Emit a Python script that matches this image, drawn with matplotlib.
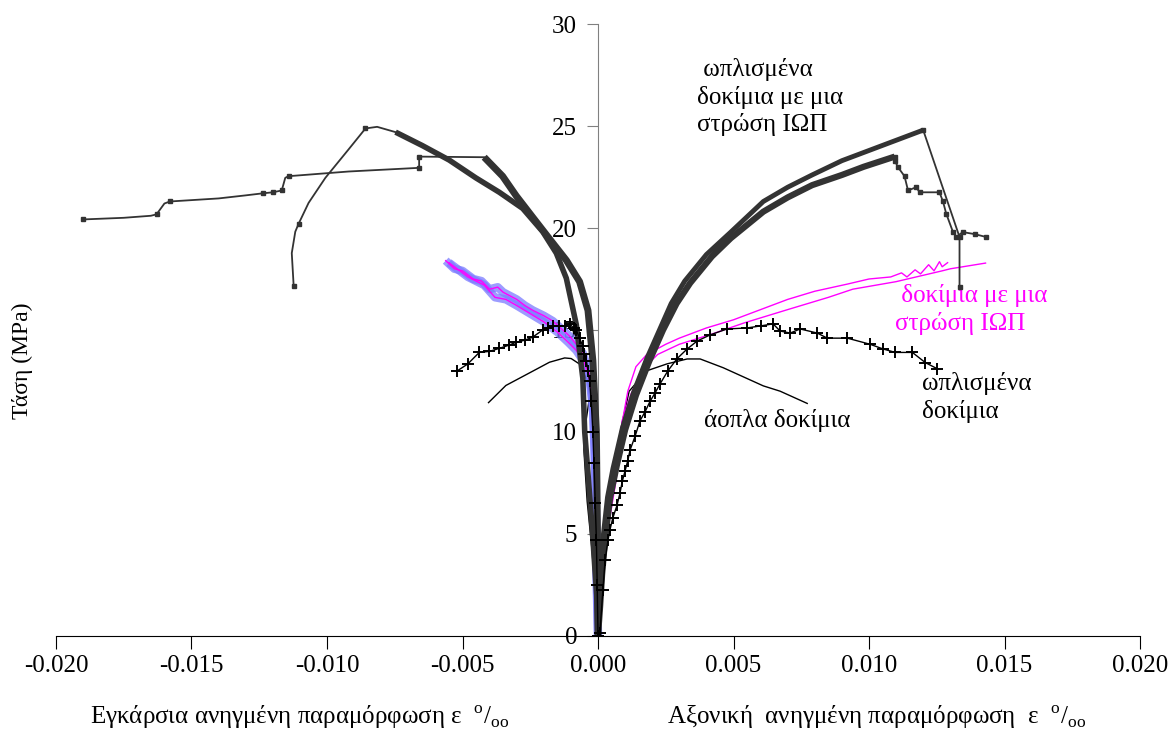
import numpy as np
import matplotlib
matplotlib.use("Agg")
import matplotlib.pyplot as plt

plt.rcParams["font.family"] = ["Liberation Serif", "DejaVu Serif"]
plt.rcParams["mathtext.fontset"] = "custom"
plt.rcParams["mathtext.rm"] = "Liberation Serif"
plt.rcParams["axes.unicode_minus"] = False

# --- FRP wrapped, reinforced specimens (dark grey) ---
# axial side, dense part
frp_ax1 = [(0, 0), (0.00005, 1.5), (0.0001, 3), (0.0002, 5), (0.00035, 6.8), (0.00055, 8.2),
           (0.0009, 10.2), (0.0013, 11.9), (0.0018, 13.6), (0.0023, 15.1), (0.0027, 16.3),
           (0.0032, 17.4), (0.0040, 18.7), (0.0049, 19.8), (0.0061, 21.3), (0.0070, 22.0),
           (0.0079, 22.6), (0.0090, 23.3), (0.0098, 23.7), (0.0110, 24.3), (0.0120, 24.8)]
frp_ax1_tail = [(0.0120, 24.8), (0.01334, 19.56), (0.01334, 17.1)]
frp_ax2 = [(0, 0), (0.00008, 1.5), (0.00015, 3), (0.00028, 5), (0.00045, 6.8), (0.0007, 8.4),
           (0.0010, 10.1), (0.0014, 11.8), (0.0019, 13.5), (0.0024, 15.0), (0.0029, 16.3),
           (0.0034, 17.3), (0.0042, 18.6), (0.0049, 19.5), (0.0061, 20.8), (0.0070, 21.5),
           (0.0079, 22.1), (0.0090, 22.6), (0.0098, 23.0), (0.01095, 23.5)]
frp_ax2_tail = [(0.01095, 23.5), (0.01095, 23.3), (0.01107, 22.98), (0.01131, 22.54),
                (0.01144, 21.84), (0.01174, 22.0), (0.01187, 21.75), (0.0126, 21.75),
                (0.01273, 21.3), (0.01285, 20.7), (0.0131, 19.8), (0.01322, 19.56),
                (0.01346, 19.8), (0.0139, 19.7), (0.01432, 19.56)]
# lateral side
frp_lat1 = [(-0.00747, 24.7), (-0.00648, 24.04), (-0.00549, 23.33), (-0.00451, 22.46),
            (-0.00364, 21.75), (-0.00278, 20.96), (-0.00204, 19.82), (-0.00154, 18.77),
            (-0.00117, 17.54), (-0.0008, 15.26), (-0.00056, 12.63), (-0.00049, 10.0),
            (-0.0004, 8.5), (-0.0002, 5.0), (-0.00005, 2.0), (0, 0)]
frp_lat1_head = [(-0.01123, 17.16), (-0.0113, 18.77), (-0.01117, 19.82), (-0.01105, 20.2),
                 (-0.01068, 21.23), (-0.01006, 22.46), (-0.0092, 23.86), (-0.00858, 24.88),
                 (-0.00815, 24.96), (-0.00747, 24.7)]
frp_lat1_head_marks = [0, 3, 7]
frp_lat2 = [(-0.0042, 23.47), (-0.00352, 22.54), (-0.00302, 21.58), (-0.00241, 20.53),
            (-0.00179, 19.47), (-0.00117, 18.42), (-0.00068, 17.37), (-0.00037, 15.96),
            (-0.00019, 13.5), (-0.00006, 10.0), (-0.00002, 5.0), (0, 0)]
frp_lat2_head = [(-0.0190, 20.42), (-0.0175, 20.5), (-0.0165, 20.6), (-0.01629, 20.67),
                 (-0.0160, 21.2), (-0.0158, 21.3), (-0.0140, 21.45), (-0.0130, 21.6),
                 (-0.01237, 21.7), (-0.01200, 21.75), (-0.01167, 21.84), (-0.01154, 22.46),
                 (-0.01142, 22.54), (-0.0092, 22.77), (-0.0066, 22.95), (-0.0066, 23.5),
                 (-0.0042, 23.47)]
frp_lat2_head_marks = [0, 3, 5, 8, 9, 10, 12, 14, 15]

# --- FRP wrapped, plain specimens (magenta) ---
mag_ax1 = [(0, 0), (0.0001, 3), (0.0005, 7), (0.0008, 9.8), (0.0011, 12.0), (0.0014, 13.2),
           (0.0018, 13.8), (0.0025, 14.3), (0.0030, 14.6), (0.0040, 15.1), (0.0050, 15.5),
           (0.0060, 16.0), (0.0070, 16.5), (0.0080, 16.9), (0.0092, 17.25), (0.0100, 17.5),
           (0.0108, 17.6), (0.0112, 17.8), (0.0114, 17.6), (0.0117, 17.95), (0.0119, 17.75),
           (0.0122, 18.2), (0.0124, 17.9), (0.0126, 18.35), (0.0127, 18.1), (0.0129, 18.3)]
mag_ax2 = [(0, 0), (0.0001, 3), (0.0004, 5.5), (0.00065, 7.5), (0.0008, 9.0), (0.0009, 10.6),
           (0.0012, 11.8), (0.0016, 13.0), (0.0022, 13.8), (0.0030, 14.3), (0.0042, 14.8),
           (0.0054, 15.35), (0.0070, 16.0), (0.0085, 16.6), (0.0094, 17.0), (0.0110, 17.37),
           (0.0127, 17.9), (0.0130, 18.0), (0.0143, 18.28)]
mag_lat1 = [(-0.00562, 18.4), (-0.0053, 18.0), (-0.0050, 17.9), (-0.0046, 17.5), (-0.0043, 17.4),
            (-0.0040, 17.0), (-0.0037, 17.1), (-0.0035, 16.85), (-0.0030, 16.5), (-0.0027, 16.2),
            (-0.0024, 15.96), (-0.0020, 15.7), (-0.00167, 15.44), (-0.0013, 15.0),
            (-0.00105, 14.7), (-0.0008, 14.3), (-0.00056, 13.86), (-0.0004, 13.2),
            (-0.00031, 12.8), (-0.00019, 11.4), (-0.00012, 9.1), (-0.00008, 6.0),
            (-0.00006, 3.0), (0, 0)]
mag_lat2 = [(-0.0055, 18.3), (-0.0048, 17.6), (-0.0042, 17.2), (-0.0038, 16.6), (-0.0034, 16.5),
            (-0.0030, 16.2), (-0.0025, 15.8), (-0.0020, 15.4), (-0.0015, 14.9), (-0.0011, 14.4),
            (-0.0008, 14.0), (-0.0005, 13.4), (-0.0003, 12.5), (-0.00018, 11.0),
            (-0.0001, 8.0), (-0.00005, 4.0), (0, 0)]

# --- reinforced, no FRP (black crosses) ---
rc_ax = [(0, 0), (0.00007, 0.15), (0.00018, 2.25), (0.00026, 3.7), (0.00037, 4.7), (0.00044, 5.2),
         (0.00055, 5.8), (0.0007, 6.4), (0.00081, 7.0), (0.0009, 7.6), (0.001, 8.1),
         (0.0011, 8.6), (0.00118, 9.1), (0.00137, 9.8), (0.00155, 10.55), (0.00174, 11.0),
         (0.00192, 11.5), (0.0021, 11.9), (0.00229, 12.36), (0.00258, 13.0), (0.00292, 13.6),
         (0.00329, 14.07), (0.00366, 14.46), (0.00414, 14.76), (0.00476, 15.05), (0.0055, 15.1),
         (0.0060, 15.2), (0.00646, 15.3), (0.00672, 14.95), (0.00709, 14.85), (0.00746, 15.05),
         (0.00809, 14.85), (0.00846, 14.6), (0.0092, 14.6), (0.01004, 14.3), (0.01052, 14.07),
         (0.01097, 13.9), (0.0116, 13.9), (0.01208, 13.4), (0.01252, 13.1)]
rc_lat = [(-0.00519, 13.0), (-0.00481, 13.33), (-0.00438, 13.9), (-0.00401, 13.95),
          (-0.00364, 14.1), (-0.0033, 14.25), (-0.00302, 14.4), (-0.0027, 14.5),
          (-0.00241, 14.65), (-0.00204, 15.0), (-0.00185, 15.1), (-0.00167, 15.2),
          (-0.00145, 15.2), (-0.00123, 15.2), (-0.00105, 15.3), (-0.0009, 15.1),
          (-0.0008, 15.0), (-0.00068, 14.6), (-0.00056, 14.2), (-0.0005, 13.8),
          (-0.00043, 13.5), (-0.00037, 13.0), (-0.00031, 12.5), (-0.00025, 11.5),
          (-0.00019, 10.0), (-0.00015, 8.5), (-0.0001, 6.5), (-0.00006, 4.7),
          (-0.00003, 2.5), (0, 0)]

# --- plain, no FRP (thin black line) ---
pc_ax = [(0, 0), (0.0001, 2.0), (0.0003, 5.5), (0.0006, 8.5), (0.0009, 10.5), (0.00115, 12.0),
         (0.0018, 13.0), (0.00255, 13.34), (0.00329, 13.58), (0.00377, 13.58), (0.00462, 13.15),
         (0.0061, 12.26), (0.00672, 12.0), (0.00772, 11.4)]
pc_lat = [(-0.00404, 11.44), (-0.0034, 12.28), (-0.00241, 12.98), (-0.00179, 13.42),
          (-0.00123, 13.63), (-0.00099, 13.6), (-0.00068, 13.33), (-0.00037, 12.46),
          (-0.00031, 11.75), (-0.0005, 10.0), (-0.00052, 9.1), (-0.0004, 6.6),
          (-0.00022, 4.2), (-0.0001, 2.0), (0, 0)]

xticks = [-0.020, -0.015, -0.010, -0.005, 0.0, 0.005, 0.010, 0.015, 0.020]
xtick_labels = ["-0.020", "-0.015", "-0.010", "-0.005", "0.000", "0.005", "0.010", "0.015", "0.020"]
yticks = [0, 5, 10, 15, 20, 25, 30]


def xy(pts):
    a = np.array(pts, dtype=float)
    return a[:, 0], a[:, 1]


fig = plt.figure(figsize=(11.69, 7.46), dpi=100)
ax = fig.add_axes([0.0479, 0.1475, 0.9273, 0.8203])

dark = "#333333"

# unreinforced
for s in (pc_ax, pc_lat):
    ax.plot(*xy(s), color="black", lw=1.0, zorder=2)

# FRP plain specimens
for s in (mag_lat1, mag_lat2):
    ax.plot(*xy(s), color="#7b7bff", lw=6, alpha=0.75, solid_capstyle="butt", zorder=2)
for s in (mag_lat1, mag_lat2, mag_ax1, mag_ax2):
    ax.plot(*xy(s), color="#ff00ff", lw=1.0, zorder=3)

# FRP reinforced specimens: dense records drawn as heavy bands
for s, w in ((frp_ax1, 3.5), (frp_ax2, 4.5), (frp_lat1, 4.0), (frp_lat2, 5.0)):
    ax.plot(*xy(s), color=dark, lw=w, solid_capstyle="butt", solid_joinstyle="round", zorder=4)
for s in (frp_ax1_tail, frp_ax2_tail):
    ax.plot(*xy(s), color=dark, lw=1.3, marker="s", ms=3, zorder=4)
ax.plot(*xy(frp_lat1_head), color=dark, lw=1.3, marker="s", ms=3,
        markevery=frp_lat1_head_marks, zorder=4)
ax.plot(*xy(frp_lat2_head), color=dark, lw=1.3, marker="s", ms=3,
        markevery=frp_lat2_head_marks, zorder=4)

# reinforced specimens
for s in (rc_ax, rc_lat):
    ax.plot(*xy(s), color="black", lw=1.0, marker="+", ms=8, mew=1.4, zorder=5)

ax.set_xlim(-0.02, 0.02)
ax.set_ylim(0, 30)
ax.set_xticks(xticks)
ax.set_xticklabels(xtick_labels)
ax.set_yticks(yticks)

ax.spines["left"].set_position(("data", 0))
ax.spines["left"].set_color("#808080")
ax.spines["top"].set_visible(False)
ax.spines["right"].set_visible(False)
ax.spines["bottom"].set_color("black")
ax.tick_params(axis="x", direction="out", length=9, pad=5, labelsize=18, color="black")
ax.tick_params(axis="y", direction="out", length=8, pad=7, labelsize=18, color="#808080")

ax.text(0.00366, 26.4, " ωπλισμένα\nδοκίμια με μια\nστρώση ΙΩΠ", fontsize=18,
        ha="left", va="center", linespacing=1.25)
ax.text(0.01097, 16.0, " δοκίμια με μια\nστρώση ΙΩΠ", fontsize=18, color="#ff00ff",
        ha="left", va="center", linespacing=1.25)
ax.text(0.01197, 11.7, "ωπλισμένα\nδοκίμια", fontsize=18, ha="left", va="center",
        linespacing=1.25)
ax.text(0.00391, 10.55, "άοπλα δοκίμια", fontsize=18, ha="left", va="center")

fig.text(22 / 1169, 1 - 361 / 746, "Τάση (MPa)", rotation=90, fontsize=17,
         ha="center", va="center")
fig.text(300 / 1169, 1 - 717 / 746, r"Εγκάρσια ανηγμένη παραμόρφωση ε  $^{\mathrm{o}}/_{\mathrm{oo}}$",
         fontsize=18, ha="center", va="center")
fig.text(877 / 1169, 1 - 717 / 746, r"Αξονική  ανηγμένη παραμόρφωση  ε  $^{\mathrm{o}}/_{\mathrm{oo}}$",
         fontsize=18, ha="center", va="center")

fig.savefig("out.png", dpi=100)
